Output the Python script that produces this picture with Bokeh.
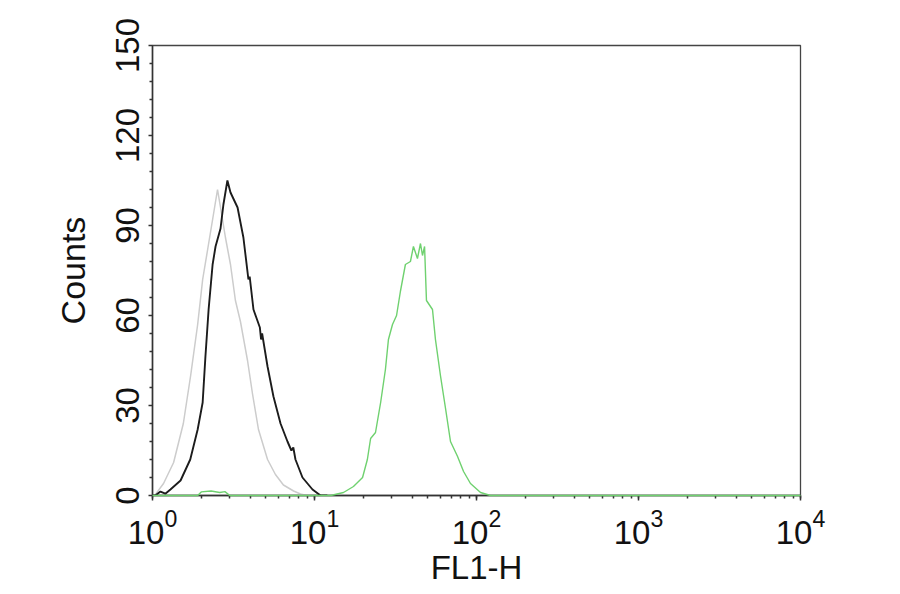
from bokeh.plotting import figure
from bokeh.models import Range1d, FixedTicker, LogTicker
from bokeh.embed import file_html
from bokeh.resources import INLINE

# ---- data ----
decades = [1, 10, 100, 1000, 10000]
y_ticks = [0, 30, 60, 90, 120, 150]

gray_x = [1.0, 1.04, 1.17, 1.35, 1.55, 1.72, 1.90, 2.04, 2.19, 2.35, 2.52, 2.63,
          2.82, 3.03, 3.25, 3.49, 3.86, 4.14, 4.51, 5.13, 5.74, 6.43, 7.43, 8.19, 9.0]
gray_y = [0, 0.3, 4, 11, 24, 40, 57, 72, 82, 92, 102, 96,
          86, 77, 65, 58, 45, 34, 22, 12, 7, 3.5, 1.5, 0.5, 0]

black_x = [1.0, 1.04, 1.12, 1.2, 1.29, 1.49, 1.71, 1.90, 2.04, 2.12, 2.22, 2.35, 2.45,
           2.63, 2.74, 2.90, 3.03, 3.35, 3.64, 3.91, 3.98, 4.20, 4.60, 4.68, 4.75,
           5.13, 5.58, 6.17, 6.81, 7.2, 7.4, 7.63, 8.43, 9.72, 10.9, 12.0]
black_y = [0, 0, 1.3, 0.6, 2, 5, 12, 22, 31, 46, 62, 77, 83,
           89, 97, 105, 101, 96, 86, 72, 73, 62, 56, 52, 54,
           43, 33, 24, 18, 15, 16, 12, 6, 2, 0, 0]

green_x = [1.0, 1.9, 2.0, 2.3, 2.6, 2.8, 3.0, 12.6, 15.1, 17.4, 19.8, 21.2, 22.2,
           23.8, 25.6, 27.4, 28.6, 30.3, 32.1, 33.9, 36.4, 39.1, 40.8, 43.2, 45.1,
           46.4, 47.8, 49.1, 53.5, 55.8, 59.9, 64.4, 69.1, 76.4, 83.2, 91.8, 105.9,
           122.0, 10000.0]
green_y = [0, 0, 1.2, 1.5, 1.0, 1.3, 0, 0, 1, 3, 6, 12, 19,
           21, 31, 42, 52, 57, 60, 68, 77, 78, 83, 79, 84,
           80, 83, 65, 62, 52, 40, 29, 18, 13, 8, 4, 1,
           0, 0]

FONT = "Liberation Sans"

p = figure(width=888, height=588, x_axis_type="log",
           x_range=Range1d(decades[0], decades[-1]), y_range=Range1d(y_ticks[0], y_ticks[-1]),
           output_backend="svg", toolbar_location=None,
           min_border_left=152, min_border_right=88, min_border_top=45, min_border_bottom=92)

p.background_fill_color = "white"
p.border_fill_color = "white"
p.outline_line_color = "#444444"
p.outline_line_width = 1.3
p.xgrid.visible = False
p.ygrid.visible = False

# curves
p.line(gray_x, gray_y, line_color="#cccccc", line_width=1.5)
p.line(black_x, black_y, line_color="#1c1c1c", line_width=1.9)
p.line(green_x, green_y, line_color="#6fd16f", line_width=1.4, level="annotation")

# x axis (log, default superscript formatter)
p.xaxis.ticker = LogTicker(num_minor_ticks=10)
p.xaxis.major_label_text_font = FONT
p.xaxis.major_label_text_font_size = "33px"
p.xaxis.major_label_text_color = "#111111"
p.xaxis.major_label_standoff = 8
p.xaxis.axis_line_color = "#333333"
p.xaxis.axis_line_width = 1.5
p.xaxis.major_tick_line_color = "#333333"
p.xaxis.minor_tick_line_color = "#333333"
p.xaxis.major_tick_out = 5
p.xaxis.major_tick_in = 0
p.xaxis.minor_tick_out = 3
p.xaxis.minor_tick_in = 0
p.xaxis.major_tick_line_width = 1.5
p.xaxis.minor_tick_line_width = 1.5
p.xaxis.axis_label = "FL1-H"
p.xaxis.axis_label_text_font = FONT
p.xaxis.axis_label_text_font_size = "33px"
p.xaxis.axis_label_text_font_style = "normal"
p.xaxis.axis_label_text_color = "#111111"
p.xaxis.axis_label_standoff = 2

# y axis
minor_y = [v for v in range(y_ticks[0], y_ticks[-1] + 1, 6) if v not in y_ticks]
p.yaxis.ticker = FixedTicker(ticks=y_ticks, minor_ticks=minor_y)
p.yaxis.major_label_orientation = "vertical"
p.yaxis.major_label_text_font = FONT
p.yaxis.major_label_text_font_size = "33px"
p.yaxis.major_label_text_color = "#111111"
p.yaxis.major_label_standoff = 10
p.yaxis.axis_line_color = "#333333"
p.yaxis.axis_line_width = 1.5
p.yaxis.major_tick_line_color = "#333333"
p.yaxis.minor_tick_line_color = "#333333"
p.yaxis.major_tick_out = 4
p.yaxis.major_tick_in = 0
p.yaxis.minor_tick_out = 3
p.yaxis.minor_tick_in = 0
p.yaxis.major_tick_line_width = 1.5
p.yaxis.minor_tick_line_width = 1.5
p.yaxis.axis_label = "Counts"
p.yaxis.axis_label_text_font = FONT
p.yaxis.axis_label_text_font_size = "34px"
p.yaxis.axis_label_text_font_style = "normal"
p.yaxis.axis_label_text_color = "#111111"
p.yaxis.axis_label_standoff = 21

open("out.html", "w").write(file_html(p, INLINE))
